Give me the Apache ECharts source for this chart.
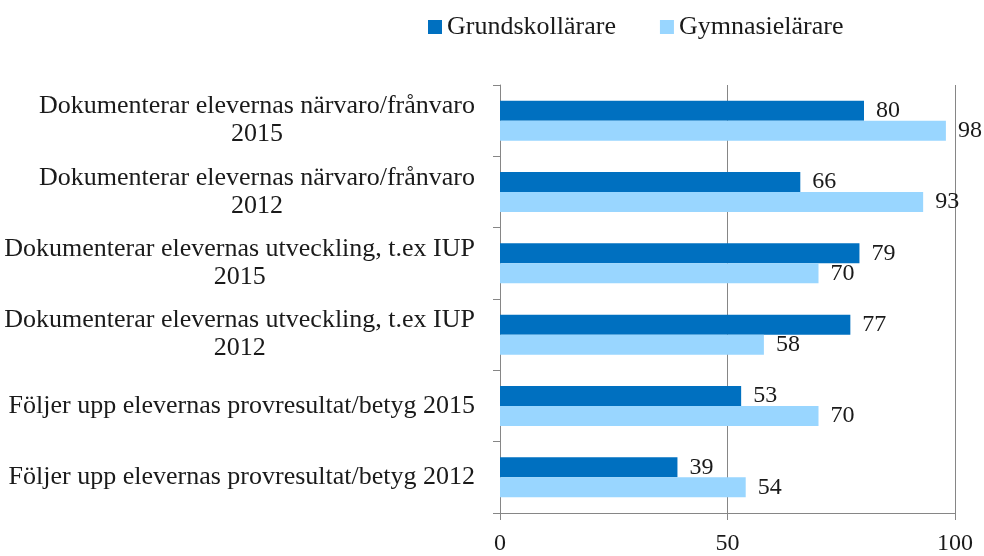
<!DOCTYPE html>
<html>
<head>
<meta charset="utf-8">
<script src="https://cdn.jsdelivr.net/npm/echarts@6/dist/echarts.min.js"></script>
<style>html,body{margin:0;padding:0;background:#fff}#c{width:984px;height:556px}</style>
</head>
<body>
<div id="c"></div>
<script>
const categories = [
  "Dokumenterar elevernas närvaro/frånvaro\n2015",
  "Dokumenterar elevernas närvaro/frånvaro\n2012",
  "Dokumenterar elevernas utveckling, t.ex IUP\n2015",
  "Dokumenterar elevernas utveckling, t.ex IUP\n2012",
  "Följer upp elevernas provresultat/betyg 2015",
  "Följer upp elevernas provresultat/betyg 2012"
];
const grundskollarare = [80, 66, 79, 77, 53, 39];
const gymnasielarare = [98, 93, 70, 58, 70, 54];
const seriesNames = ["Grundskollärare", "Gymnasielärare"];

const FONT = "'Liberation Serif', 'Times New Roman', serif";
const TXT = '#1a1a1a';
const chart = echarts.init(document.getElementById('c'), null, {renderer: 'canvas'});
const labelCfg = {show: true, position: 'right', distance: 12, color: TXT, fontFamily: FONT, fontSize: 24};
chart.setOption({
  animation: false,
  textStyle: {fontFamily: FONT, color: TXT},
  legend: {
    top: 9, left: 423,
    itemWidth: 14, itemHeight: 14, itemGap: 44,
    icon: 'rect',
    textStyle: {fontFamily: FONT, fontSize: 26, color: TXT},
    data: seriesNames
  },
  grid: {left: 500, right: 29, top: 85, bottom: 41, containLabel: false},
  xAxis: {
    type: 'value', min: 0, max: 100, interval: 50,
    axisLine: {show: true, lineStyle: {color: '#868686', width: 1}},
    axisTick: {show: true, length: 7, lineStyle: {color: '#868686'}},
    axisLabel: {fontFamily: FONT, fontSize: 24, color: TXT, margin: 19},
    splitLine: {show: true, lineStyle: {color: '#868686', width: 1}}
  },
  yAxis: {
    type: 'category', inverse: true, data: categories,
    axisLine: {show: true, lineStyle: {color: '#868686', width: 1}},
    axisTick: {show: true, length: 7, lineStyle: {color: '#868686'}},
    axisLabel: {
      margin: 25, fontFamily: FONT, fontSize: 26, color: TXT, lineHeight: 28,
      formatter: v => v.split('\n').map(l => '{c|' + l + '}').join('\n'),
      rich: {c: {align: 'center', fontFamily: FONT, fontSize: 26, color: TXT, lineHeight: 28}}
    },
    splitLine: {show: false}
  },
  series: [
    {name: seriesNames[0], type: 'bar', data: grundskollarare, barWidth: 20, barGap: '0%',
     itemStyle: {color: '#0070C0'}, label: labelCfg},
    {name: seriesNames[1], type: 'bar', data: gymnasielarare, barWidth: 20, barGap: '0%',
     itemStyle: {color: '#99D6FF'}, label: labelCfg}
  ]
});
</script>
</body>
</html>
